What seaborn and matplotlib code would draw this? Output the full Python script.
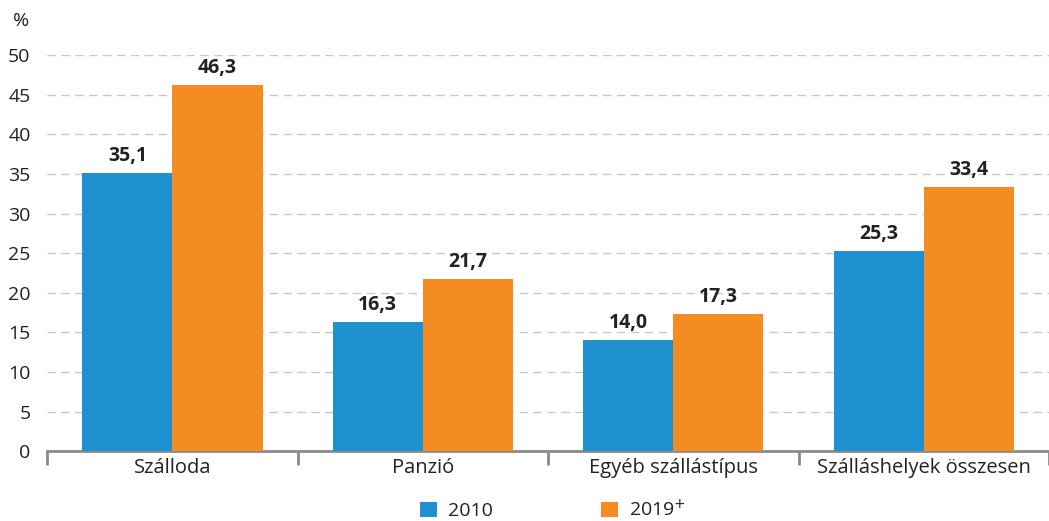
import matplotlib
matplotlib.use("Agg")
import matplotlib.pyplot as plt
import seaborn as sns
import pandas as pd
from matplotlib.patches import Patch

categories = ["Szálloda", "Panzió", "Egyéb szállástípus", "Szálláshelyek összesen"]
values_2010 = [35.1, 16.3, 14.0, 25.3]
values_2019 = [46.3, 21.7, 17.3, 33.4]
series = ["2010", "2019$^{+}$"]
yticks = [0, 5, 10, 15, 20, 25, 30, 35, 40, 45, 50]

colors = ["#1f90d0", "#f58c22"]

df = pd.DataFrame({
    "kat": categories * 2,
    "ev": [series[0]] * 4 + [series[1]] * 4,
    "ertek": values_2010 + values_2019,
})

sns.set_theme(style="white")
plt.rcParams["font.family"] = ["Open Sans", "DejaVu Sans"]

fig = plt.figure(figsize=(10.49, 5.21), dpi=100)
ax = fig.add_axes([0.045, 0.134, 0.955, 0.760])

sns.barplot(data=df, x="kat", y="ertek", hue="ev", palette=colors,
            width=0.72, gap=0, ax=ax, legend=False, saturation=1,
            edgecolor="none", zorder=3)

# value labels with decimal comma
for cont in ax.containers:
    labels = [f"{b.get_height():.1f}".replace(".", ",") for b in cont]
    ax.bar_label(cont, labels=labels, padding=5, fontsize=14,
                 fontweight="bold", color="#222222")

ax.set_ylim(0, 50)
ax.set_xlim(-0.5, 3.5)
ax.set_yticks(yticks)
ax.set_yticklabels([str(t) for t in yticks], fontsize=14, color="#222222")
ax.yaxis.grid(True, linestyle=(0, (6, 4)), color="#c8c8c8", linewidth=1, zorder=0)
ax.set_axisbelow(True)
ax.set_xlabel("")
ax.set_ylabel("")

# category labels centred, ticks at group boundaries
ax.set_xticks([-0.5, 0.5, 1.5, 2.5, 3.5])
ax.set_xticklabels([])
ax.set_xticks([0, 1, 2, 3], minor=True)
ax.set_xticklabels(categories, minor=True, fontsize=14.5, color="#222222")
ax.tick_params(axis="x", which="major", direction="out", length=10, width=2,
               color="#8a8a8a", bottom=True)
ax.tick_params(axis="x", which="minor", length=0, pad=5)
ax.tick_params(axis="y", length=0, pad=12)

for s in ["top", "right", "left"]:
    ax.spines[s].set_visible(False)
ax.spines["bottom"].set_color("#8a8a8a")
ax.spines["bottom"].set_linewidth(2)

fig.text(0.012, 0.943, "%", fontsize=14, color="#222222",
         ha="left", va="bottom")

handles = [Patch(facecolor=c, edgecolor="none") for c in colors]
fig.legend(handles, series, loc="center", bbox_to_anchor=(0.527, 0.022),
           ncol=2, frameon=False, fontsize=14, handlelength=0.85,
           handleheight=0.85, columnspacing=5.6, handletextpad=0.55,
           labelcolor="#222222", borderpad=0)

fig.savefig("out.png", dpi=100)
